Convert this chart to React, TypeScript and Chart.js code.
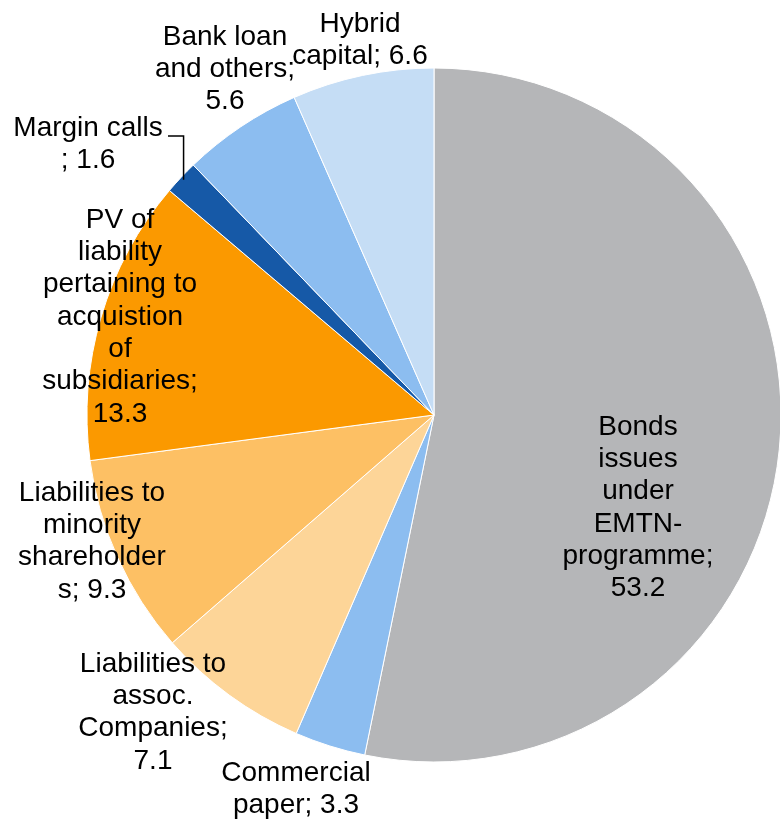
import React, { useEffect, useRef } from "react";
import { Chart, registerables } from "chart.js";

Chart.register(...registerables);

const categories = [
  "Bonds issues under EMTN-programme",
  "Commercial paper",
  "Liabilities to assoc. Companies",
  "Liabilities to minority shareholders",
  "PV of liability pertaining to acquistion of subsidiaries",
  "Margin calls",
  "Bank loan and others",
  "Hybrid capital",
];
const values = [53.2, 3.3, 7.1, 9.3, 13.3, 1.6, 5.6, 6.6];
const colors = ["#B5B6B8", "#8CBDF0", "#FDD598", "#FDC064", "#FB9900", "#1659A7", "#8CBDF0", "#C5DDF5"];
const labelLines = [
  ["Bonds", "issues", "under", "EMTN-", "programme;", "53.2"],
  ["Commercial", "paper; 3.3"],
  ["Liabilities to", "assoc.", "Companies;", "7.1"],
  ["Liabilities to", "minority", "shareholder", "s; 9.3"],
  ["PV of", "liability", "pertaining to", "acquistion", "of", "subsidiaries;", "13.3"],
  ["Margin calls", "; 1.6"],
  ["Bank loan", "and others;", "5.6"],
  ["Hybrid", "capital; 6.6"],
];
// label block centres (x, first-line y) in pixels
const labelPos = [
  [638, 427],
  [296, 773],
  [153, 664],
  [92, 493],
  [120, 220],
  [88, 128],
  [225, 37],
  [360, 24],
];

const LINE_H = 32.3;

const labelPlugin = {
  id: "sliceLabels",
  afterDatasetsDraw(chart: any) {
    const ctx = chart.ctx;
    const meta = chart.getDatasetMeta(0);
    ctx.save();
    ctx.font = "28px 'Liberation Sans', Arial, sans-serif";
    ctx.fillStyle = "#000";
    ctx.textAlign = "center";
    ctx.textBaseline = "middle";
    labelLines.forEach((lines, i) => {
      const [x, y] = labelPos[i];
      lines.forEach((t, j) => ctx.fillText(t, x, y + j * LINE_H));
    });
    // leader line for Margin calls
    const arc = meta.data[5];
    if (arc) {
      const mid = (arc.startAngle + arc.endAngle) / 2;
      const ex = arc.x + Math.cos(mid) * arc.outerRadius * 0.99;
      const ey = arc.y + Math.sin(mid) * arc.outerRadius * 0.99;
      ctx.strokeStyle = "#000";
      ctx.lineWidth = 1.5;
      ctx.beginPath();
      ctx.moveTo(168, 136);
      ctx.lineTo(ex, 136);
      ctx.lineTo(ex, ey);
      ctx.stroke();
    }
    ctx.restore();
  },
};

export default function App() {
  const ref = useRef<HTMLCanvasElement>(null);
  useEffect(() => {
    if (!ref.current) return;
    const chart = new Chart(ref.current, {
      type: "pie",
      data: {
        labels: categories,
        datasets: [
          {
            data: values,
            backgroundColor: colors,
            borderColor: "#FFFFFF",
            borderWidth: 1,
          },
        ],
      },
      options: {
        animation: false,
        responsive: false,
        radius: 347,
        layout: { padding: { left: 88, right: 0, top: 9, bottom: 0 } },
        plugins: { legend: { display: false }, tooltip: { enabled: false } },
      } as any,
      plugins: [labelPlugin],
    });
    return () => chart.destroy();
  }, []);
  return (
    <div style={{ position: "absolute", left: 0, top: 0, width: 780, height: 821, background: "#fff" }}>
      <canvas ref={ref} width={780} height={821} />
    </div>
  );
}
